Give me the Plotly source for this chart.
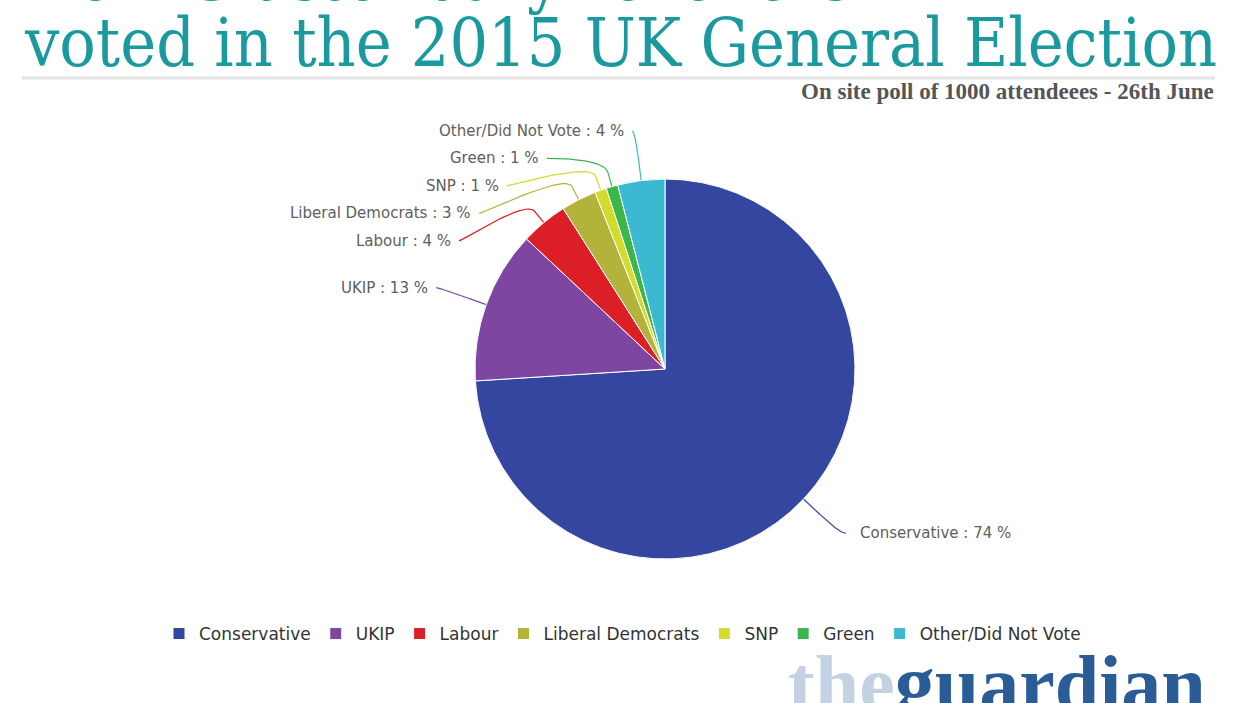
import math
import plotly.graph_objects as go

# ---------------- data ----------------
parties = ["Conservative", "UKIP", "Labour", "Liberal Democrats", "SNP", "Green", "Other/Did Not Vote"]
shares = [74, 13, 4, 3, 1, 1, 4]
colors = ["#34469f", "#7e46a1", "#dc1f27", "#b3b33b", "#d3dc2c", "#3cb64a", "#3ab9d1"]
title_line1 = "How Glastonbury revellers"
title_line2 = "voted in the 2015 UK General Election"
subtitle = "On site poll of 1000 attendeees - 26th June"

# ---------------- layout geometry (pixels) ----------------
W, H = 1245, 703
CX, CY, R = 665, 369, 190
LABEL_R = 240
SLOT = 27.5
CONN_OFF = 15


def px(x):
    return x / W


def py(y):
    return 1 - y / H


fig = go.Figure()

fig.add_trace(go.Pie(
    labels=parties, values=shares, sort=False, direction="clockwise", rotation=0,
    marker=dict(colors=colors, line=dict(color="white", width=1)),
    textinfo="none", hoverinfo="label+percent",
    domain=dict(x=[px(CX - R), px(CX + R)], y=[py(CY + R), py(CY - R)]),
    showlegend=True,
))

# ---------------- data labels with connectors ----------------
total = sum(shares)
cum = 0
pts = []
for name, v, c in zip(parties, shares, colors):
    theta = 2 * math.pi * (cum + v / 2) / total
    cum += v
    pts.append(dict(name=name, v=v, c=c, th=theta,
                    ny=CY - LABEL_R * math.cos(theta),
                    left=theta >= math.pi))

annotations = []
for side in (True, False):
    group = sorted([p for p in pts if p["left"] == side], key=lambda p: p["ny"])
    prev = -1e9
    for p in group:
        y = max(p["ny"], prev + SLOT)
        prev = y
        dy = y - CY
        dx = math.sqrt(max(LABEL_R ** 2 - dy ** 2, 0))
        sgn = -1 if side else 1
        sx = CX + sgn * dx
        start = sx - 3 if side else sx + 6
        text_x = sx - 9 if side else sx + 18
        th = p["th"]
        p4 = (CX + R * math.sin(th), CY - R * math.cos(th))
        p2 = (CX + (R + CONN_OFF) * math.sin(th), CY - (R + CONN_OFF) * math.cos(th))
        c2 = (2 * p2[0] - p4[0], 2 * p2[1] - p4[1])
        p0 = (start, y)
        c1 = (sx, y)
        xs, ys = [], []
        n = 24
        for i in range(n + 1):
            t = i / n
            a = (1 - t) ** 3
            b = 3 * (1 - t) ** 2 * t
            cc = 3 * (1 - t) * t ** 2
            d = t ** 3
            xs.append(a * p0[0] + b * c1[0] + cc * c2[0] + d * p2[0])
            ys.append(a * p0[1] + b * c1[1] + cc * c2[1] + d * p2[1])
        xs.append(p4[0])
        ys.append(p4[1])
        fig.add_trace(go.Scatter(x=xs, y=ys, mode="lines", line=dict(color=p["c"], width=1.2),
                                 hoverinfo="skip", showlegend=False))
        annotations.append(dict(
            x=text_x, y=y, xref="x", yref="y", showarrow=False,
            xanchor="right" if side else "left", yanchor="middle",
            text=f"{p['name']} : {p['v']} %",
            font=dict(family="DejaVu Sans", size=15, color="#606060"),
        ))

# ---------------- titles & branding ----------------
title_font = dict(family="DejaVu Serif Condensed, DejaVu Serif", size=67.5, color="#1a999f")
annotations += [
    dict(x=px(22), y=py(-24), xref="paper", yref="paper", xanchor="left", yanchor="middle",
         text=title_line1, showarrow=False, font=title_font),
    dict(x=px(22), y=py(43), xref="paper", yref="paper", xanchor="left", yanchor="middle",
         text=title_line2, showarrow=False, font=title_font),
    dict(x=px(1216), y=py(92), xref="paper", yref="paper", xanchor="right", yanchor="middle",
         text=f"<b>{subtitle}</b>", showarrow=False,
         font=dict(family="Liberation Serif", size=23, color="#555555")),
    dict(x=px(786), y=py(684), xref="paper", yref="paper", xanchor="left", yanchor="middle",
         text='<span style="color:#c3d2e2">the</span><span style="color:#2a5d98">guardian</span>',
         showarrow=False, font=dict(family="Liberation Serif", size=80, color="#2a5d98", weight="bold")),
]

fig.update_layout(
    width=W, height=H,
    margin=dict(l=0, r=0, t=0, b=0),
    paper_bgcolor="white", plot_bgcolor="rgba(0,0,0,0)",
    xaxis=dict(range=[0, W], visible=False, fixedrange=True, domain=[0, 1]),
    yaxis=dict(range=[H, 0], visible=False, fixedrange=True, domain=[0, 1]),
    legend=dict(orientation="h", x=0.5, xanchor="center", y=py(634), yanchor="middle",
                font=dict(family="DejaVu Sans", size=17, color="#333333"),
                bgcolor="rgba(0,0,0,0)"),
    shapes=[dict(type="line", xref="paper", yref="paper", x0=px(22), x1=px(1215),
                 y0=py(78), y1=py(78), line=dict(color="#e2e2e2", width=3))],
    annotations=annotations,
    showlegend=True,
)

fig.write_html("out.html", config={"displayModeBar": False},
               post_script="document.body.style.margin='0';document.body.style.overflow='hidden';")
